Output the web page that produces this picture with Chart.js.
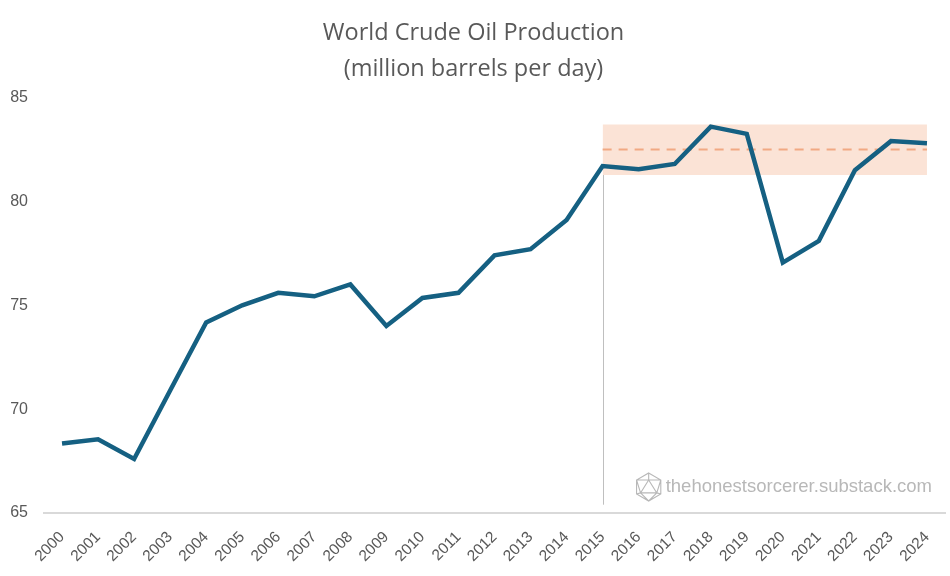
<!DOCTYPE html>
<html>
<head>
<meta charset="utf-8">
<script src="https://cdn.jsdelivr.net/npm/chart.js@4.4.1/dist/chart.umd.min.js"></script>
<style>
html,body{margin:0;padding:0;background:#fff;}
#wrap{width:950px;height:576px;position:relative;}
</style>
</head>
<body>
<div id="wrap"><canvas id="c"></canvas></div>
<script>
const years = ['2000','2001','2002','2003','2004','2005','2006','2007','2008','2009','2010','2011','2012','2013','2014','2015','2016','2017','2018','2019','2020','2021','2022','2023','2024'];
const production = [68.35,68.55,67.6,70.9,74.17,75.0,75.6,75.43,76.0,74.0,75.35,75.6,77.4,77.7,79.1,81.7,81.55,81.8,83.6,83.25,77.05,78.1,81.5,82.9,82.8];
const yTicks = [65,70,75,80,85];
const bandStartYear = '2015';
const bandHigh = years.map(y => (+y >= 2015 ? 83.7 : null));
const bandLow = years.map(y => (+y >= 2015 ? 81.27 : null));
const bandMean = years.map(y => (+y >= 2015 ? 82.5 : null));
const vLineRange = [83.6, 65.4];
const watermark = 'thehonestsorcerer.substack.com';

const TXT = '#595959';

const extras = {
  id: 'extras',
  beforeDatasetsDraw(chart) {
    const {ctx, scales:{x, y}} = chart;
    const px = x.getPixelForValue(years.indexOf(bandStartYear));
    ctx.save();
    ctx.strokeStyle = '#BFBFBF';
    ctx.lineWidth = 1;
    ctx.beginPath();
    ctx.moveTo(Math.round(px)+0.5, y.getPixelForValue(vLineRange[0]));
    ctx.lineTo(Math.round(px)+0.5, y.getPixelForValue(vLineRange[1]));
    ctx.stroke();
    ctx.restore();
  },
  afterDraw(chart) {
    const {ctx, chartArea} = chart;
    ctx.save();
    ctx.font = '18.5px "Liberation Sans", Arial, sans-serif';
    ctx.fillStyle = '#B8B8B8';
    ctx.textAlign = 'right';
    ctx.textBaseline = 'middle';
    const tx = chartArea.right - 13, ty = chartArea.bottom - 26;
    ctx.fillText(watermark, tx, ty);
    const w = ctx.measureText(watermark).width;
    const cx = tx - w - 17, cy = ty, r = 14;
    const V = [];
    for (let i = 0; i < 6; i++) {
      const a = -Math.PI/2 + i*Math.PI/3;
      V.push([cx + r*Math.cos(a), cy + r*Math.sin(a)]);
    }
    const T = [[cx, cy - 0.5*r],[cx + 0.58*r, cy + 0.42*r],[cx - 0.58*r, cy + 0.42*r]];
    ctx.strokeStyle = '#B8B8B8';
    ctx.lineWidth = 1.1;
    ctx.beginPath();
    V.forEach((p,i)=>{ i? ctx.lineTo(p[0],p[1]) : ctx.moveTo(p[0],p[1]); });
    ctx.closePath();
    ctx.moveTo(T[0][0],T[0][1]); ctx.lineTo(T[1][0],T[1][1]); ctx.lineTo(T[2][0],T[2][1]); ctx.closePath();
    const links = [[0,0],[0,1],[0,5],[1,1],[1,2],[1,3],[2,3],[2,4],[2,5]];
    links.forEach(([t,v])=>{ ctx.moveTo(T[t][0],T[t][1]); ctx.lineTo(V[v][0],V[v][1]); });
    ctx.stroke();
    ctx.restore();
  }
};

new Chart(document.getElementById('c'), {
  type: 'line',
  data: {
    labels: years,
    datasets: [
      { data: production, borderColor: '#156082', borderWidth: 4.5, pointRadius: 0, tension: 0, fill: false },
      { data: bandMean, borderColor: '#F1A983', borderWidth: 2, borderDash: [9,7], pointRadius: 0, fill: false },
      { data: bandHigh, borderColor: 'rgba(0,0,0,0)', borderWidth: 0, pointRadius: 0, backgroundColor: '#FBE3D6', fill: '+1' },
      { data: bandLow, borderColor: 'rgba(0,0,0,0)', borderWidth: 0, pointRadius: 0, fill: false }
    ]
  },
  options: {
    responsive: true,
    maintainAspectRatio: false,
    animation: false,
    layout: { padding: { left: 2, right: 5, top: 0, bottom: 0 } },
    plugins: {
      legend: { display: false },
      tooltip: { enabled: false },
      title: {
        display: true,
        text: ['World Crude Oil Production', '(million barrels per day)'],
        color: TXT,
        font: { family: '"Open Sans", "Noto Sans", sans-serif', size: 23.5, weight: 'normal', lineHeight: 1.5 },
        padding: { top: 16, bottom: 11 }
      }
    },
    scales: {
      x: {
        offset: true,
        grid: { display: false },
        border: { display: true, color: '#D9D9D9', width: 2 },
        ticks: { color: TXT, font: { family: '"Liberation Sans", Arial, sans-serif', size: 15.5 }, minRotation: 45, maxRotation: 45, autoSkip: false, padding: 7 },
        afterFit(s) { s.height = 63; }
      },
      y: {
        min: 65, max: 85,
        grid: { display: false, drawTicks: false },
        border: { display: false },
        afterBuildTicks(s) { s.ticks = yTicks.map(v => ({ value: v })); },
        ticks: { color: TXT, font: { family: '"Liberation Sans", Arial, sans-serif', size: 16 }, padding: 16 },
        afterFit(s) { s.width = 42; }
      }
    }
  },
  plugins: [extras]
});
</script>
</body>
</html>
